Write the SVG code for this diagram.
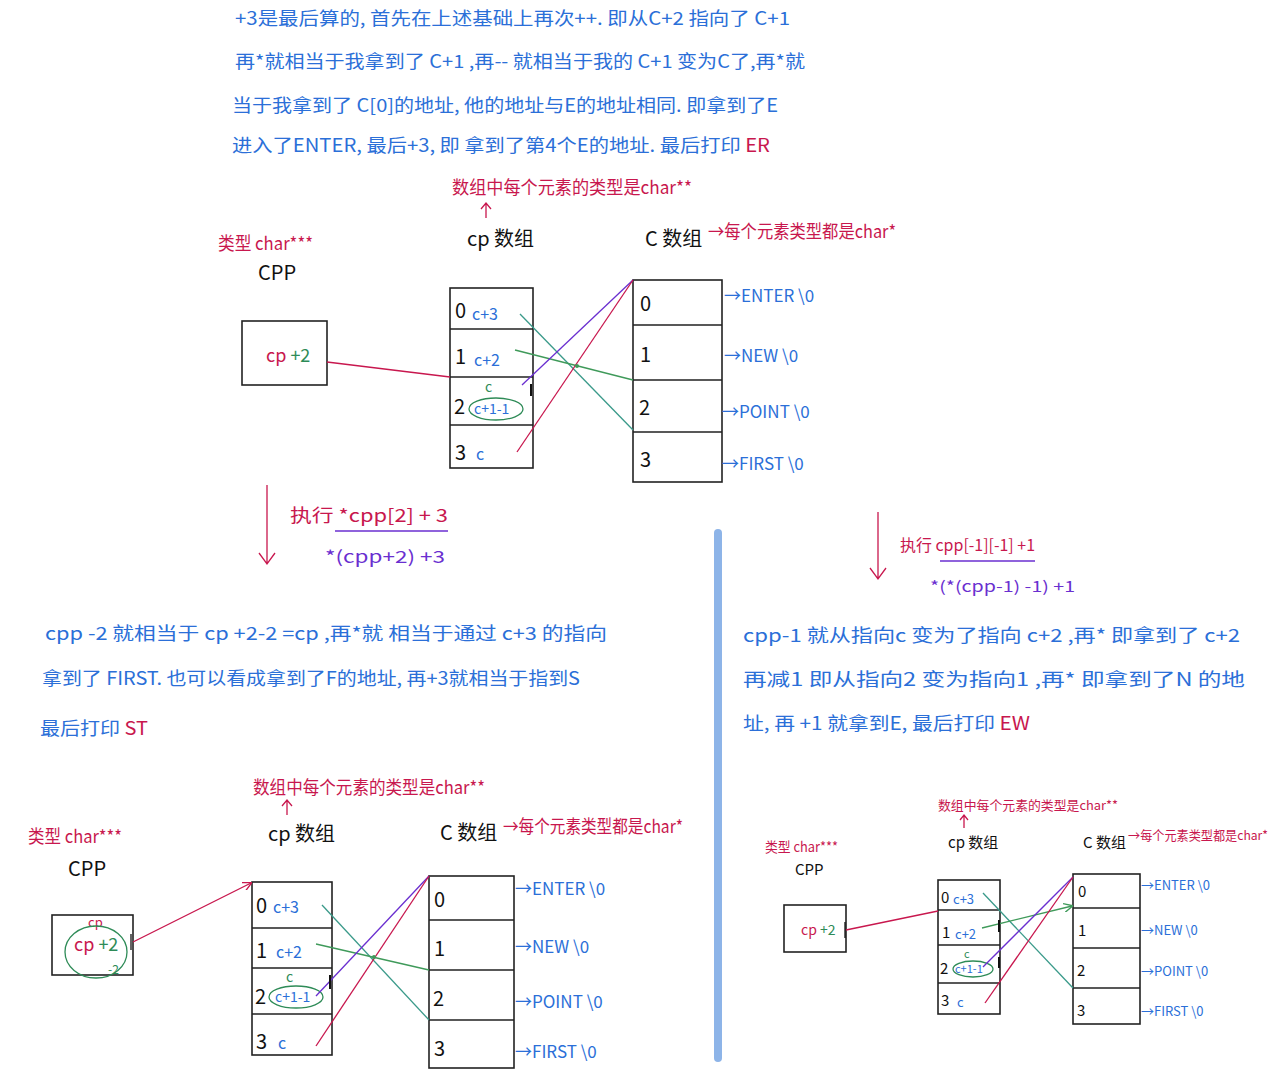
<svg xmlns="http://www.w3.org/2000/svg" width="1288" height="1080" viewBox="0 0 1288 1080">
<defs>
<style>
text{font-family:"Noto Sans CJK SC","Noto Sans",sans-serif}
.b{fill:#2b6fd8}.r{fill:#c8174e}.g{fill:#2e8b57}.k{fill:#111}.p{fill:#6a2fd0}
.box{fill:none;stroke:#222;stroke-width:1.6}
.ln{stroke-width:1.3;fill:none}
.rl{stroke:#c8174e}.tl{stroke:#3a9a8a}.gl{stroke:#3f9a5a}.pl{stroke:#6a2fd0}.kl{stroke:#111}
.el{fill:none;stroke:#2e8b57;stroke-width:1.3}
</style>
<marker id="ar" viewBox="0 0 10 10" refX="9" refY="5" markerWidth="9" markerHeight="9" orient="auto" markerUnits="userSpaceOnUse"><path d="M0,0L10,5L0,10" fill="none" stroke="#c8174e" stroke-width="1.5"/></marker>
<marker id="ag" viewBox="0 0 10 10" refX="9" refY="5" markerWidth="9" markerHeight="9" orient="auto" markerUnits="userSpaceOnUse"><path d="M0,0L10,5L0,10" fill="none" stroke="#3f9a5a" stroke-width="1.5"/></marker>
</defs>
<rect width="1288" height="1080" fill="#fff"/>

<g id="header-text" font-size="18">
<text class="b" x="235" y="25" textLength="555" lengthAdjust="spacingAndGlyphs">+3是最后算的, 首先在上述基础上再次++. 即从C+2 指向了 C+1</text>
<text class="b" x="235" y="68" textLength="570" lengthAdjust="spacingAndGlyphs">再*就相当于我拿到了 C+1 ,再-- 就相当于我的 C+1 变为C了,再*就</text>
<text class="b" x="232" y="112" textLength="546" lengthAdjust="spacingAndGlyphs">当于我拿到了 C[0]的地址, 他的地址与E的地址相同. 即拿到了E</text>
<text class="b" x="232" y="152" textLength="538" lengthAdjust="spacingAndGlyphs">进入了ENTER, 最后+3, 即 拿到了第4个E的地址. 最后打印 <tspan class="r">ER</tspan></text>
</g>

<!-- Top diagram -->
<g id="top-labels">
<text class="r" x="452" y="194" font-size="18" textLength="240" lengthAdjust="spacingAndGlyphs">数组中每个元素的类型是char**</text>
<path d="M486,218V204M481,209L486,203L491,209" class="ln rl"/>
<text class="r" x="218" y="250" font-size="18" textLength="95" lengthAdjust="spacingAndGlyphs">类型 char***</text>
<text class="k" x="258" y="280" font-size="20">CPP</text>
<text class="k" x="467" y="246" font-size="20">cp 数组</text>
<text class="k" x="645" y="246" font-size="20">C 数组</text>
<text class="r" x="708" y="238" font-size="18" textLength="188" lengthAdjust="spacingAndGlyphs">→每个元素类型都是char*</text>
</g>
<g id="top-cpp">
<rect class="box" x="242" y="321" width="85" height="64"/>
<text x="266" y="362" font-size="18"><tspan class="r">cp</tspan><tspan class="g"> +2</tspan></text>
</g>
<g id="top-cp">
<rect class="box" x="450" y="288" width="83" height="180"/>
<path class="box" d="M450,329H533M450,377H533M450,425H533"/>
<g class="k" font-size="20"><text x="455" y="318">0</text><text x="455" y="364">1</text><text x="454" y="414">2</text><text x="455" y="460">3</text></g>
<g class="b" font-size="16"><text x="472" y="320">c+3</text><text x="474" y="366">c+2</text><text x="476" y="460">c</text></g>
<text class="g" x="485" y="392" font-size="14">c</text>
<text class="b" x="474" y="414" font-size="14">c+1-1</text>
<ellipse class="el" cx="496" cy="409" rx="27" ry="11"/>
</g>
<g id="top-c">
<rect class="box" x="633" y="280" width="89" height="202"/>
<path class="box" d="M633,325H722M633,380H722M633,432H722"/>
<g class="k" font-size="20"><text x="640" y="311">0</text><text x="640" y="362">1</text><text x="639" y="415">2</text><text x="640" y="467">3</text></g>
<g class="b" font-size="17"><text x="724" y="302">→ENTER \0</text><text x="724" y="362">→NEW \0</text><text x="722" y="418">→POINT \0</text><text x="722" y="470">→FIRST \0</text></g>
</g>
<g id="top-connectors" class="ln">
<path class="rl" d="M327,362L450,377"/>
<path class="tl" d="M520,314L633,430"/>
<path class="gl" d="M515,350L633,380"/>
<path class="pl" d="M522,385L633,280"/>
<path class="rl" d="M517,452L633,280"/>
<path class="kl" stroke-width="2" d="M531,384V396"/>
<circle cx="577" cy="366" r="2" fill="#3f9a5a"/>
</g>

<!-- middle steps -->
<g id="step-left">
<path class="ln rl" stroke-width="1.6" d="M267,485V563M259,553L267,564L275,553"/>
<text class="r" x="290" y="522" font-size="18" textLength="158" lengthAdjust="spacingAndGlyphs">执行 *cpp[2] + 3</text>
<path class="ln pl" d="M335,531H448"/>
<text class="p" x="325" y="563" font-size="17" textLength="120" lengthAdjust="spacingAndGlyphs">*(cpp+2) +3</text>
</g>
<g id="step-right">
<path class="ln rl" stroke-width="1.6" d="M878,512V578M870,568L878,579L886,568"/>
<text class="r" x="900" y="551" font-size="16" textLength="135" lengthAdjust="spacingAndGlyphs">执行 cpp[-1][-1] +1</text>
<path class="ln pl" d="M940,561H1035"/>
<text class="p" x="930" y="592" font-size="15" textLength="145" lengthAdjust="spacingAndGlyphs">*(*(cpp-1) -1) +1</text>
</g>
<path id="divider" d="M718,533V1058" stroke="#8db4e8" stroke-width="8" stroke-linecap="round"/>

<g id="left-text" font-size="18">
<text class="b" x="45" y="640" textLength="562" lengthAdjust="spacingAndGlyphs">cpp -2 就相当于 cp +2-2 =cp ,再*就 相当于通过 c+3 的指向</text>
<text class="b" x="42" y="685" textLength="538" lengthAdjust="spacingAndGlyphs">拿到了 FIRST. 也可以看成拿到了F的地址, 再+3就相当于指到S</text>
<text class="b" x="40" y="735" textLength="108" lengthAdjust="spacingAndGlyphs">最后打印 <tspan class="r">ST</tspan></text>
</g>
<g id="right-text" font-size="18">
<text class="b" x="743" y="642" textLength="497" lengthAdjust="spacingAndGlyphs">cpp-1 就从指向c 变为了指向 c+2 ,再* 即拿到了 c+2</text>
<text class="b" x="743" y="686" textLength="502" lengthAdjust="spacingAndGlyphs">再减1 即从指向2 变为指向1 ,再* 即拿到了N 的地</text>
<text class="b" x="743" y="730" textLength="287" lengthAdjust="spacingAndGlyphs">址, 再 +1 就拿到E, 最后打印 <tspan class="r">EW</tspan></text>
</g>

<!-- Bottom-left diagram -->
<g id="bl-labels">
<text class="r" x="253" y="794" font-size="18" textLength="232" lengthAdjust="spacingAndGlyphs">数组中每个元素的类型是char**</text>
<path d="M287,815V801M282,806L287,800L292,806" class="ln rl"/>
<text class="r" x="28" y="843" font-size="18" textLength="94" lengthAdjust="spacingAndGlyphs">类型 char***</text>
<text class="k" x="68" y="876" font-size="20">CPP</text>
<text class="k" x="268" y="841" font-size="20">cp 数组</text>
<text class="k" x="440" y="840" font-size="20">C 数组</text>
<text class="r" x="503" y="833" font-size="18" textLength="180" lengthAdjust="spacingAndGlyphs">→每个元素类型都是char*</text>
</g>
<g id="bl-cpp">
<rect class="box" x="52" y="915" width="81" height="60"/>
<text class="r" x="88" y="927" font-size="13">cp</text>
<text x="74" y="951" font-size="18"><tspan class="r">cp</tspan><tspan class="g"> +2</tspan></text>
<text class="g" x="108" y="974" font-size="12">-2</text>
<ellipse class="el" cx="96" cy="952" rx="31" ry="26"/>
<path class="ln kl" stroke-width="2" d="M131,934V950"/>
</g>
<g id="bl-cp">
<rect class="box" x="252" y="882" width="80" height="173"/>
<path class="box" d="M252,928H332M252,968H332M252,1014H332"/>
<g class="k" font-size="20"><text x="256" y="913">0</text><text x="256" y="958">1</text><text x="255" y="1004">2</text><text x="256" y="1049">3</text></g>
<g class="b" font-size="16"><text x="273" y="913">c+3</text><text x="276" y="958">c+2</text><text x="278" y="1049">c</text></g>
<text class="g" x="286" y="982" font-size="14">c</text>
<text class="b" x="275" y="1002" font-size="14">c+1-1</text>
<ellipse class="el" cx="296" cy="997" rx="27" ry="11"/>
</g>
<g id="bl-c">
<rect class="box" x="429" y="876" width="85" height="192"/>
<path class="box" d="M429,920H514M429,970H514M429,1020H514"/>
<g class="k" font-size="20"><text x="434" y="907">0</text><text x="434" y="956">1</text><text x="433" y="1006">2</text><text x="434" y="1056">3</text></g>
<g class="b" font-size="17"><text x="515" y="895">→ENTER \0</text><text x="515" y="953">→NEW \0</text><text x="515" y="1008">→POINT \0</text><text x="515" y="1058">→FIRST \0</text></g>
</g>
<g id="bl-connectors" class="ln">
<path class="rl" d="M133,942L251,883" marker-end="url(#ar)"/>
<path class="tl" d="M322,905L429,1020"/>
<path class="gl" d="M316,944L429,970"/>
<path class="pl" d="M316,996L429,876"/>
<path class="rl" d="M316,1046L429,876"/>
<path class="kl" stroke-width="2" d="M330,975V989"/>
<circle cx="374" cy="957" r="2" fill="#3f9a5a"/>
</g>

<!-- Bottom-right diagram -->
<g id="br-labels">
<text class="r" x="938" y="810" font-size="13" textLength="180" lengthAdjust="spacingAndGlyphs">数组中每个元素的类型是char**</text>
<path d="M964,828V816M960,820L964,815L968,820" class="ln rl"/>
<text class="r" x="765" y="852" font-size="14" textLength="73" lengthAdjust="spacingAndGlyphs">类型 char***</text>
<text class="k" x="795" y="875" font-size="15">CPP</text>
<text class="k" x="948" y="848" font-size="15">cp 数组</text>
<text class="k" x="1083" y="848" font-size="15">C 数组</text>
<text class="r" x="1128" y="840" font-size="13" textLength="140" lengthAdjust="spacingAndGlyphs">→每个元素类型都是char*</text>
</g>
<g id="br-cpp">
<rect class="box" x="784" y="905" width="62" height="47"/>
<text x="801" y="935" font-size="14"><tspan class="r">cp</tspan><tspan class="g"> +2</tspan></text>
<path class="ln kl" stroke-width="2" d="M845,922V938"/>
</g>
<g id="br-cp">
<rect class="box" x="938" y="880" width="62" height="134"/>
<path class="box" d="M938,910H1000M938,945H1000M938,983H1000"/>
<g class="k" font-size="15"><text x="941" y="903">0</text><text x="942" y="938">1</text><text x="940" y="974">2</text><text x="941" y="1006">3</text></g>
<g class="b" font-size="13"><text x="953" y="904">c+3</text><text x="955" y="939">c+2</text><text x="957" y="1007">c</text></g>
<text class="g" x="964" y="958" font-size="11">c</text>
<text class="b" x="955" y="973" font-size="11">c+1-1</text>
<ellipse class="el" cx="973" cy="969" rx="20" ry="8"/>
</g>
<g id="br-c">
<rect class="box" x="1073" y="874" width="67" height="150"/>
<path class="box" d="M1073,908H1140M1073,948H1140M1073,988H1140"/>
<g class="k" font-size="15"><text x="1078" y="897">0</text><text x="1078" y="936">1</text><text x="1077" y="976">2</text><text x="1077" y="1016">3</text></g>
<g class="b" font-size="13"><text x="1141" y="890">→ENTER \0</text><text x="1141" y="935">→NEW \0</text><text x="1141" y="976">→POINT \0</text><text x="1141" y="1016">→FIRST \0</text></g>
</g>
<g id="br-connectors" class="ln">
<path class="rl" d="M846,930L938,911"/>
<path class="tl" d="M983,893L1073,988"/>
<path class="gl" d="M982,928L1072,906" marker-end="url(#ag)"/>
<path class="pl" d="M983,967L1073,877"/>
<path class="rl" d="M985,1003L1073,877"/>
<path class="kl" stroke-width="2" d="M999,920V932M999,957V968"/>
</g>
</svg>
